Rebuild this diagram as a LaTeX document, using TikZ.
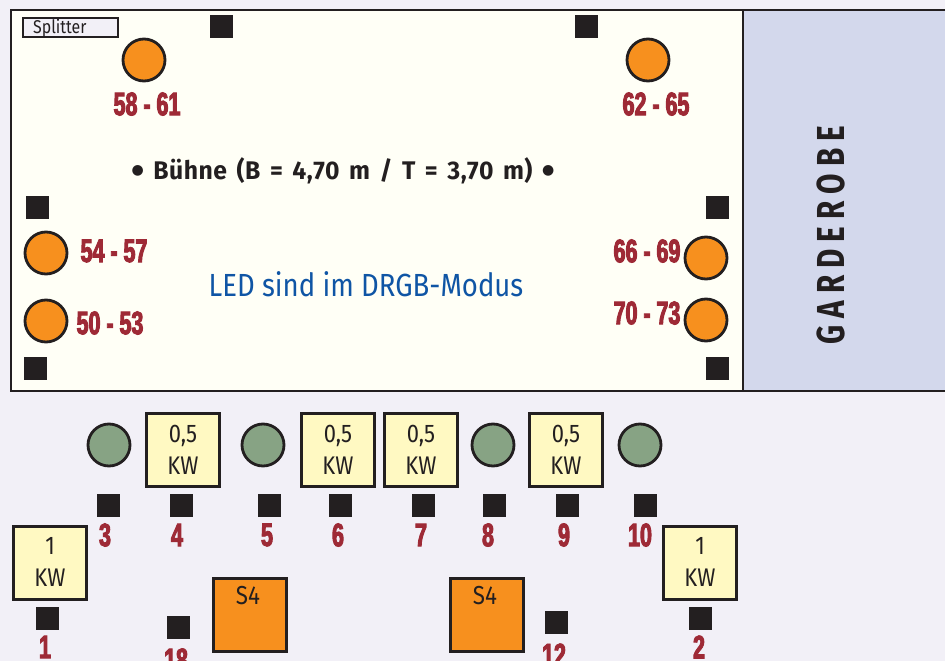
\documentclass[tikz,border=0pt]{standalone}
\usepackage{fontspec}
\setmainfont{Fira Sans}
\newfontfamily\redfont[FakeStretch=0.66,FakeBold=3]{Liberation Sans Bold}
\newfontfamily\narrowfont[FakeStretch=0.86]{Fira Sans}
\newfontfamily\boldfont[FakeStretch=0.97,WordSpace=1.5,LetterSpace=2]{Fira Sans Bold}
\newfontfamily\garfont[FakeStretch=0.76]{Fira Sans Bold}
\newfontfamily\dotfont{DejaVu Sans}
\definecolor{bgc}{HTML}{F2F0F7}
\definecolor{stagec}{HTML}{FFFFF6}
\definecolor{garc}{HTML}{D3D8EC}
\definecolor{inkc}{HTML}{231F20}
\definecolor{orangec}{HTML}{F7901E}
\definecolor{greenc}{HTML}{87A384}
\definecolor{yellowc}{HTML}{FFF9C2}
\definecolor{redc}{HTML}{9E2A36}
\definecolor{bluec}{HTML}{0F55A5}
\newcommand{\bigdot}{{\dotfont\fontsize{14}{14}\selectfont\raisebox{5pt}{●}}}
\newcommand{\up}[1]{\raisebox{2.5pt}{#1}}
\tikzset{
  x=1pt,y=-1pt,
  lamp/.style={circle,draw=inkc,line width=2.8pt,fill=orangec,minimum size=42pt,inner sep=0pt},
  gcirc/.style={lamp,fill=greenc},
  sq/.style={rectangle,fill=inkc,minimum size=23pt,inner sep=0pt},
  ybox/.style={rectangle,draw=inkc,line width=2.8pt,fill=yellowc,minimum size=72.5pt,inner sep=0pt,align=center,text=inkc,font=\narrowfont\fontsize{25.5}{32}\selectfont},
  sbox/.style={rectangle,draw=inkc,line width=2.8pt,fill=orangec,minimum size=72.5pt,inner sep=0pt},
  num/.style={text=redc,inner sep=0pt,font=\redfont\fontsize{32.5}{32}\selectfont},
}
\begin{document}
\begin{tikzpicture}
\useasboundingbox (0,0) rectangle (945,661);
\clip (0,0) rectangle (945,661);
\fill[bgc] (0,0) rectangle (945,661);
\draw[inkc,line width=2.6pt,fill=garc] (743,10) rectangle (950,391);
\draw[inkc,line width=2.6pt,fill=stagec] (11,10) rectangle (743,391);
\node[draw=inkc,line width=2.4pt,fill=bgc,minimum width=95pt,minimum height=19pt,inner sep=0pt] (split) at (70.5,27.5) {};
\node[text=inkc,anchor=west,inner sep=0pt,font=\narrowfont\fontsize{18.5}{20}\selectfont] (splitlbl) at (33,28) {Splitter};
\node[text=inkc,inner sep=0pt,font=\boldfont\fontsize{25.5}{28}\selectfont] (buehne) at (343,171) {\bigdot{} Bühne (B = 4,70 m / T = 3,70 m) \bigdot};
\node[text=bluec,inner sep=0pt,font=\narrowfont\fontsize{32}{34}\selectfont] (led) at (366,284) {LED sind im DRGB-Modus};
\node[rotate=90,text=inkc,inner sep=0pt,font=\garfont\fontsize{39}{40}\selectfont] (gar) at (831,235) {G\hspace{7pt}A\hspace{7pt}R\hspace{7pt}D\hspace{7pt}E\hspace{7pt}R\hspace{7pt}O\hspace{7pt}B\hspace{7pt}E};
% stage lamps
\node[lamp] (l1) at (144,60) {};
\node[lamp] (l2) at (648,60) {};
\node[lamp] (l3) at (46,253) {};
\node[lamp] (l4) at (46,321) {};
\node[lamp] (l5) at (706,258) {};
\node[lamp] (l6) at (706,320) {};
\node[num] (n1) at (147,104) {58 - 61};
\node[num] (n2) at (656,104) {62 - 65};
\node[num] (n3) at (114,251) {54 - 57};
\node[num] (n4) at (110,323) {50 - 53};
\node[num] (n5) at (647,251) {66 - 69};
\node[num] (n6) at (647,313) {70 - 73};
% squares
\node[sq] (s1) at (221,27) {};
\node[sq] (s2) at (586,27) {};
\node[sq] (s3) at (37,207) {};
\node[sq] (s4) at (717,207) {};
\node[sq] (s5) at (35,368) {};
\node[sq] (s6) at (717,368) {};
% lower row
\node[gcirc] (g1) at (109,445) {};
\node[gcirc] (g2) at (263,445) {};
\node[gcirc] (g3) at (493,445) {};
\node[gcirc] (g4) at (640,445) {};
\node[ybox] (y1) at (183,450) {0,5\\KW};
\node[ybox] (y2) at (338,450) {0,5\\KW};
\node[ybox] (y3) at (421,450) {0,5\\KW};
\node[ybox] (y4) at (566,450) {0,5\\KW};
\node[ybox] (y5) at (50,563) {\up{1}\\\up{KW}};
\node[ybox] (y6) at (700,563) {\up{1}\\\up{KW}};
\node[sbox] (b1) at (250,615) {};
\node[sbox] (b2) at (487,615) {};
\node[text=inkc,inner sep=0pt,font=\narrowfont\fontsize{26}{28}\selectfont] (b1l) at (248,596) {S4};
\node[text=inkc,inner sep=0pt,font=\narrowfont\fontsize{26}{28}\selectfont] (b2l) at (485,596) {S4};
\foreach \nm/\x/\y in {a/108/505,b/181/505,c/269/505,d/340/505,e/423/505,f/494/505,g/567/505,h/645/505,i/47/618,j/700/618,k/178/627,l/556/622}
  \node[sq] (q\nm) at (\x,\y) {};
\node[num] (m3) at (105,535) {3};
\node[num] (m4) at (177,535) {4};
\node[num] (m5) at (267,535) {5};
\node[num] (m6) at (338,535) {6};
\node[num] (m7) at (421,535) {7};
\node[num] (m8) at (488,535) {8};
\node[num] (m9) at (564,535) {9};
\node[num] (m10) at (640,535) {10};
\node[num] (m1) at (45,647) {1};
\node[num] (m2) at (699,647) {2};
\node[num] (m18) at (176,660) {18};
\node[num] (m12) at (554,655) {12};
\end{tikzpicture}
\end{document}
